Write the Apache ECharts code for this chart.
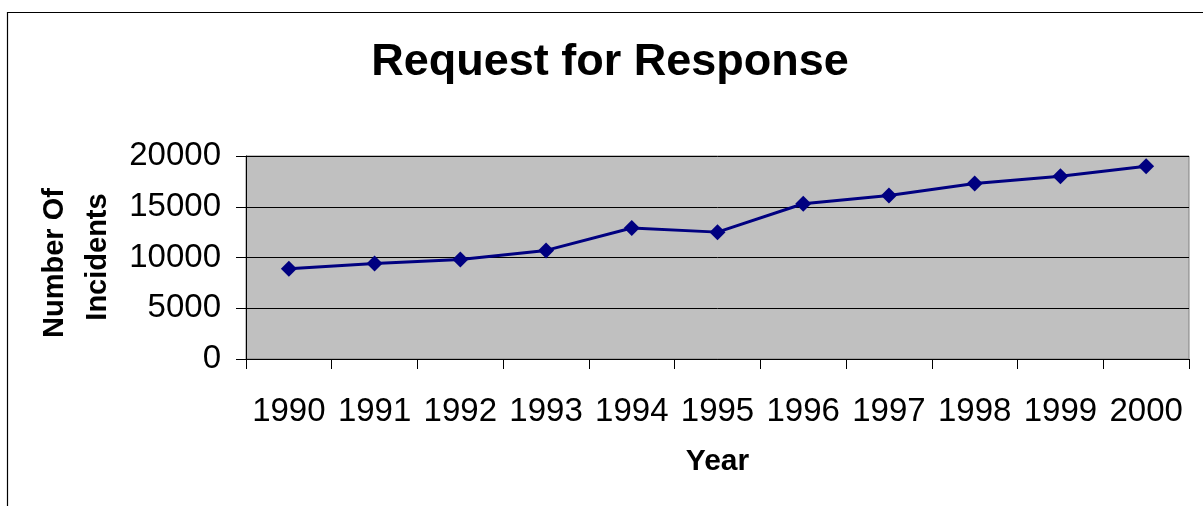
<!DOCTYPE html>
<html>
<head>
<meta charset="utf-8">
<script src="https://cdn.jsdelivr.net/npm/echarts@6/dist/echarts.min.js"></script>
<style>
  html, body { margin: 0; padding: 0; background: #ffffff; }
  #chart { width: 1203px; height: 506px; }
</style>
</head>
<body>
<div id="chart"></div>
<script>
// Yearly incident counts
const years = ['1990', '1991', '1992', '1993', '1994', '1995', '1996', '1997', '1998', '1999', '2000'];
const incidents = [8900, 9400, 9800, 10700, 12900, 12500, 15300, 16100, 17300, 18000, 19000];
const yTicks = { min: 0, max: 20000, interval: 5000 };

const FONT = '"Liberation Sans", Arial, sans-serif';
const chart = echarts.init(document.getElementById('chart'), null, { renderer: 'canvas' });

chart.setOption({
  animation: false,
  backgroundColor: '#ffffff',
  title: {
    text: 'Request for Response',
    left: 605,
    top: 35,
    textAlign: 'center',
    textStyle: { fontFamily: FONT, fontSize: 45, fontWeight: 'bold', color: '#000' }
  },
  graphic: [
    // outer chart frame
    {
      type: 'rect', silent: true, z: -1,
      shape: { x: 7.5, y: 12.5, width: 1300, height: 600 },
      style: { fill: 'none', stroke: '#000', lineWidth: 1.2 }
    },
    // y-axis title, two lines
    {
      type: 'text', x: 55, y: 263, rotation: Math.PI / 2,
      style: { text: 'Number Of', fontFamily: FONT, fontSize: 29, fontWeight: 'bold', fill: '#000', align: 'center', verticalAlign: 'middle' }
    },
    {
      type: 'text', x: 98, y: 257, rotation: Math.PI / 2,
      style: { text: 'Incidents', fontFamily: FONT, fontSize: 29, fontWeight: 'bold', fill: '#000', align: 'center', verticalAlign: 'middle' }
    },
    // x-axis title
    {
      type: 'text', x: 717.5, y: 462,
      style: { text: 'Year', fontFamily: FONT, fontSize: 30, fontWeight: 'bold', fill: '#000', align: 'center', verticalAlign: 'middle' }
    }
  ],
  grid: {
    left: 246, top: 156, right: 14, bottom: 147,
    show: true,
    backgroundColor: '#c0c0c0',
    borderColor: '#808080',
    borderWidth: 1
  },
  xAxis: {
    type: 'category',
    data: years,
    boundaryGap: true,
    axisLine: { lineStyle: { color: '#000', width: 1 } },
    axisTick: { show: true, length: 10, alignWithLabel: false, lineStyle: { color: '#000' } },
    axisLabel: { margin: 36, fontFamily: FONT, fontSize: 33, color: '#000', interval: 0 },
    splitLine: { show: false }
  },
  yAxis: {
    type: 'value',
    min: yTicks.min,
    max: yTicks.max,
    interval: yTicks.interval,
    axisLine: { show: true, lineStyle: { color: '#000', width: 1 } },
    axisTick: { show: true, length: 10, lineStyle: { color: '#000' } },
    axisLabel: { margin: 25, fontFamily: FONT, fontSize: 33, color: '#000', formatter: (v) => String(v) },
    splitLine: { show: true, lineStyle: { color: '#000', width: 1 } }
  },
  series: [{
    type: 'line',
    data: incidents,
    symbol: 'diamond',
    symbolSize: 16,
    showSymbol: true,
    lineStyle: { color: '#000080', width: 3 },
    itemStyle: { color: '#000080' }
  }]
});
</script>
</body>
</html>
